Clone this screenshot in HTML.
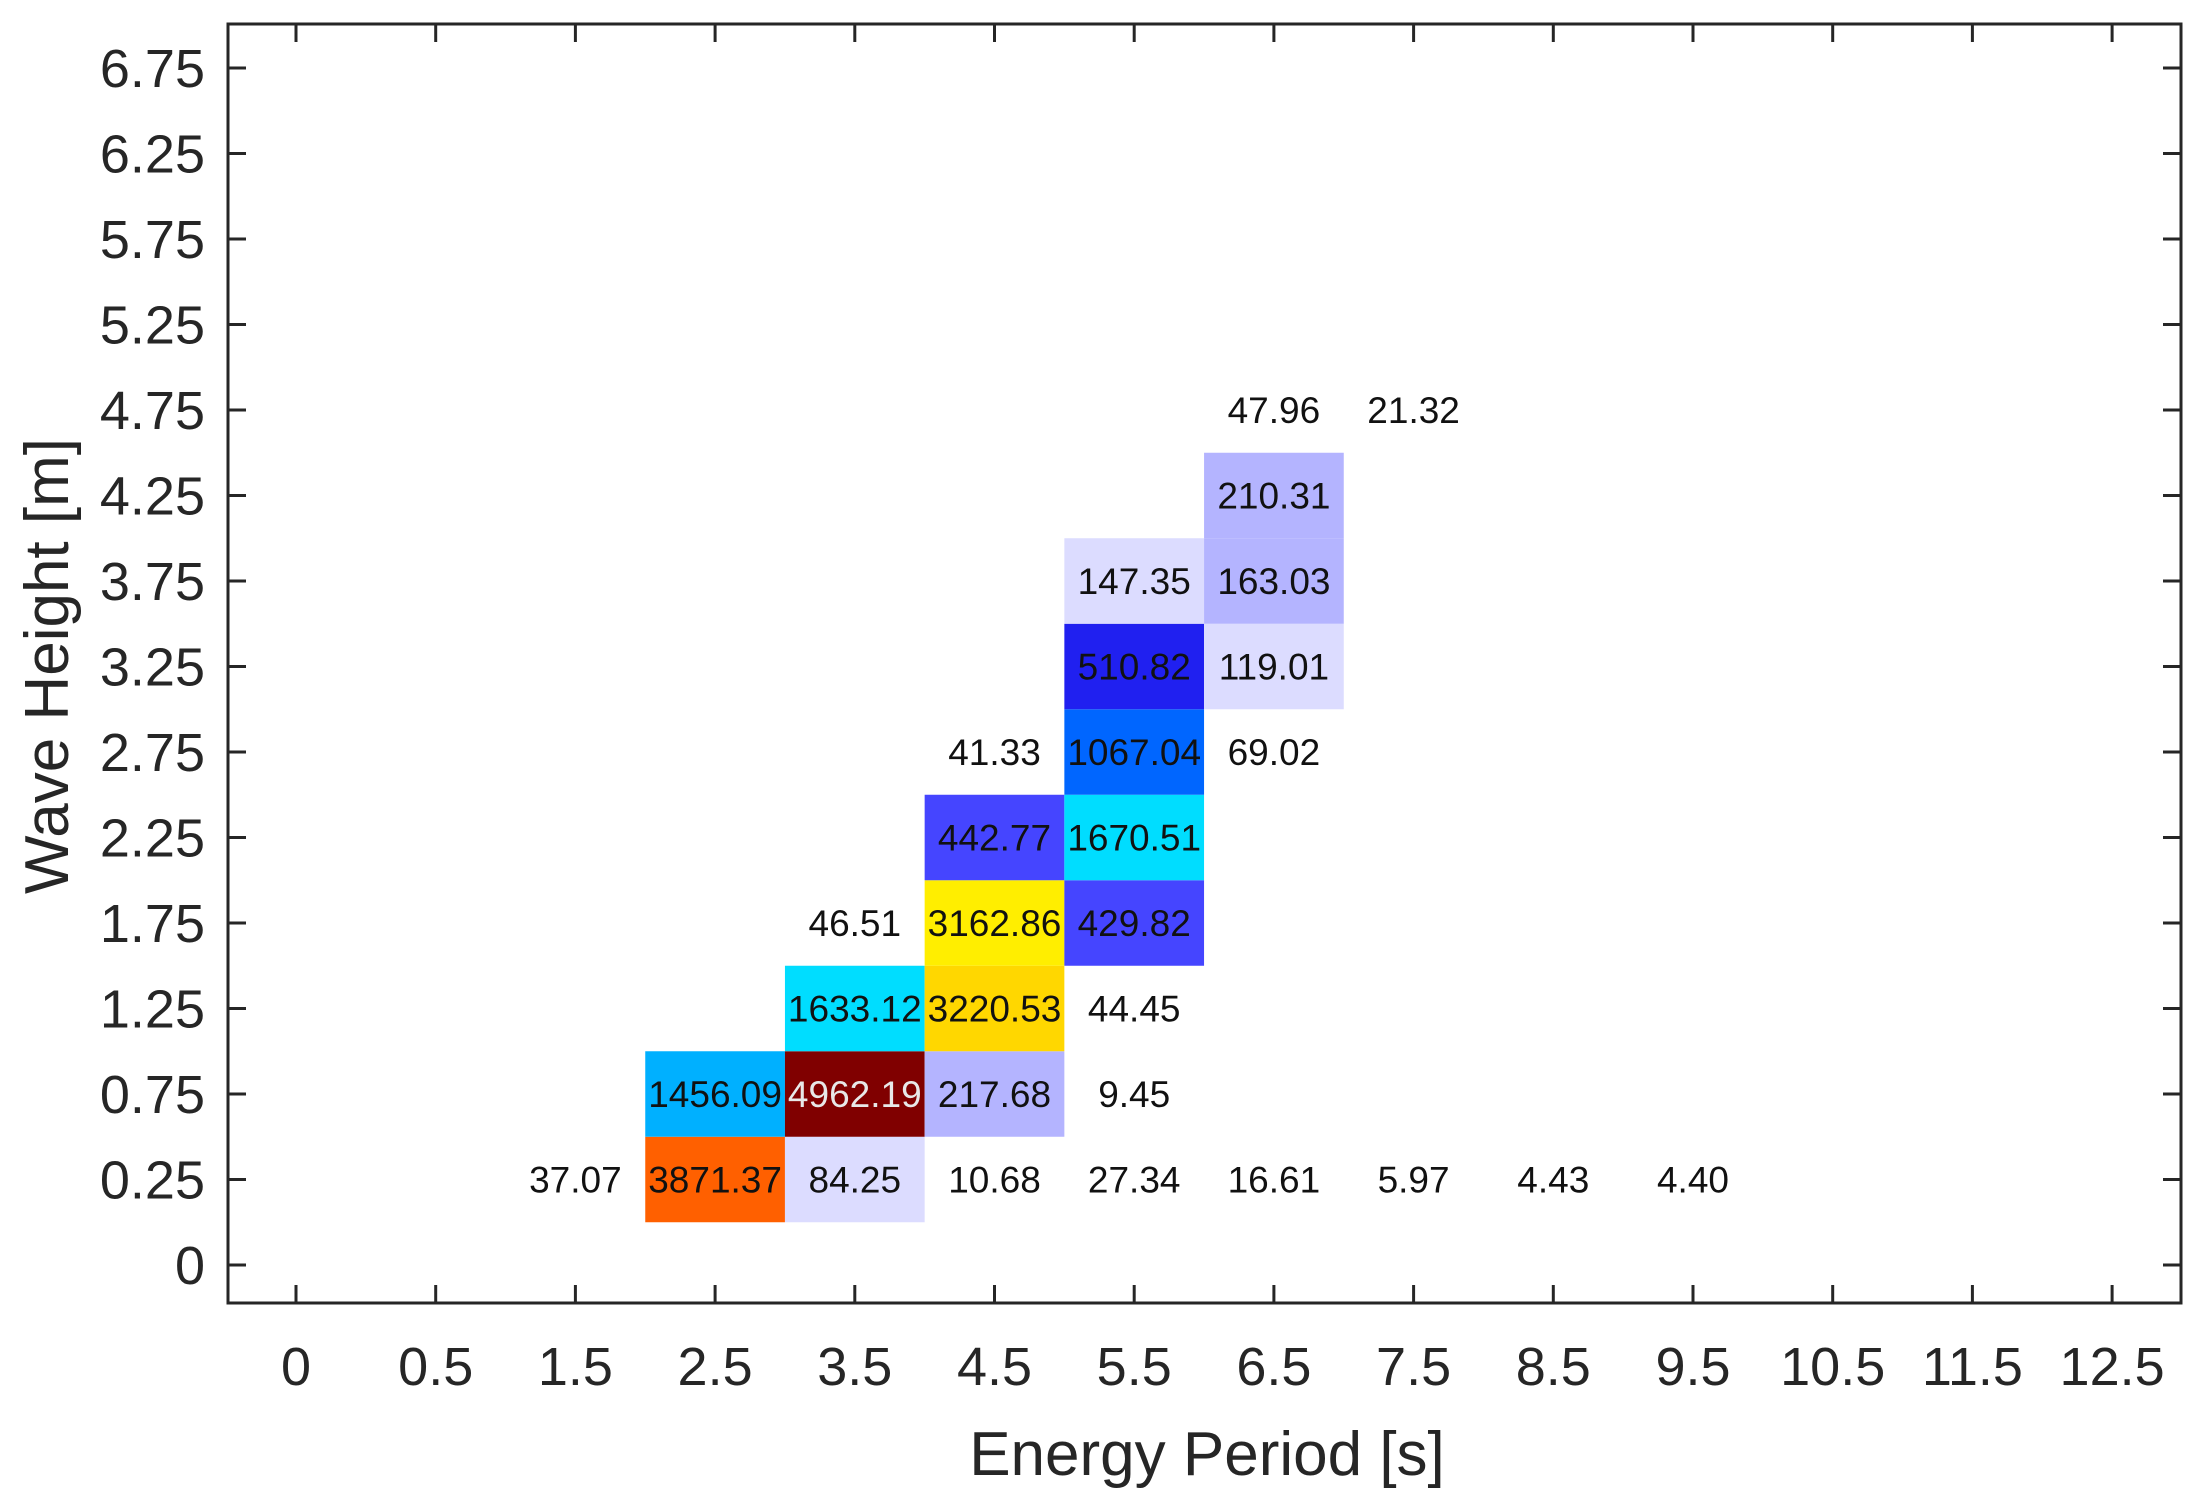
<!DOCTYPE html>
<html><head><meta charset="utf-8"><style>
html,body{margin:0;padding:0;background:#fff;}
svg{display:block;font-family:"Liberation Sans",Arial,sans-serif;}
</style></head><body>
<svg id="chart" width="2199" height="1511" viewBox="0 0 2199 1511" xmlns="http://www.w3.org/2000/svg">
<rect x="0" y="0" width="2199" height="1511" fill="#fff"/>
<g id="cells"></g>
<g id="axes"></g>
<text x="1207" y="1475" font-size="62" fill="#262626" text-anchor="middle">Energy Period [s]</text>
<text transform="translate(68,666) rotate(-90)" font-size="62" fill="#262626" text-anchor="middle">Wave Height [m]</text>
</svg>
<script>
const xLabels = ["0","0.5","1.5","2.5","3.5","4.5","5.5","6.5","7.5","8.5","9.5","10.5","11.5","12.5"];
const yLabels = ["0","0.25","0.75","1.25","1.75","2.25","2.75","3.25","3.75","4.25","4.75","5.25","5.75","6.25","6.75"];
const cellX = ["1.5","2.5","3.5","4.5","5.5","6.5","7.5","8.5","9.5",
  "2.5","3.5","4.5","5.5",
  "3.5","4.5","5.5",
  "3.5","4.5","5.5",
  "4.5","5.5",
  "4.5","5.5","6.5",
  "5.5","6.5",
  "5.5","6.5",
  "6.5",
  "6.5","7.5"];
const cellY = ["0.25","0.25","0.25","0.25","0.25","0.25","0.25","0.25","0.25",
  "0.75","0.75","0.75","0.75",
  "1.25","1.25","1.25",
  "1.75","1.75","1.75",
  "2.25","2.25",
  "2.75","2.75","2.75",
  "3.25","3.25",
  "3.75","3.75",
  "4.25",
  "4.75","4.75"];
const cellValues = [37.07,3871.37,84.25,10.68,27.34,16.61,5.97,4.43,4.40,
  1456.09,4962.19,217.68,9.45,
  1633.12,3220.53,44.45,
  46.51,3162.86,429.82,
  442.77,1670.51,
  41.33,1067.04,69.02,
  510.82,119.01,
  147.35,163.03,
  210.31,
  47.96,21.32];

const NS="http://www.w3.org/2000/svg";
const L=228,R=2181,T=24,B=1303;
const xStep=139.7, x0=296, yStep=85.5, y0=1265;
function xPos(lbl){return x0+xLabels.indexOf(lbl)*xStep;}
function yPos(lbl){return y0-yLabels.indexOf(lbl)*yStep;}
function colorFor(v){
  if(v<75) return null;
  if(v<150) return "#dcdcff";
  if(v<300) return "#b4b4ff";
  if(v<480) return "#4545ff";
  if(v<800) return "#2020f0";
  if(v<1300) return "#0066ff";
  if(v<1550) return "#00b0ff";
  if(v<2000) return "#00ddff";
  if(v<3190) return "#ffee00";
  if(v<3500) return "#ffd700";
  if(v<4400) return "#ff6000";
  return "#800000";
}
function mk(tag,attrs,parent){const e=document.createElementNS(NS,tag);for(const k in attrs)e.setAttribute(k,attrs[k]);parent.appendChild(e);return e;}
const cells=document.getElementById('cells');
const axes=document.getElementById('axes');
for(let i=0;i<cellValues.length;i++){
  const cx=xPos(cellX[i]), cy=yPos(cellY[i]), v=cellValues[i];
  const c=colorFor(v);
  if(c){
    const r=mk('rect',{x:cx-xStep/2,y:cy-yStep/2,width:xStep,height:yStep,fill:c},cells);
    
    
  }
  const t=mk('text',{x:cx,y:cy+13,'font-size':37,'text-anchor':'middle',fill:v>4400?'#e8e8e8':'#111'},cells);
  t.textContent=v.toFixed(2);
  
  
}
const box=mk('rect',{x:L,y:T,width:R-L,height:B-T,fill:'none',stroke:'#262626','stroke-width':3},axes);


xLabels.forEach((l,i)=>{
  const x=x0+i*xStep;
  mk('line',{x1:x,y1:B,x2:x,y2:B-18,stroke:'#262626','stroke-width':3},axes);
  mk('line',{x1:x,y1:T,x2:x,y2:T+18,stroke:'#262626','stroke-width':3},axes);
  const t=mk('text',{x:x,y:1385,'font-size':54,'text-anchor':'middle',fill:'#262626'},axes);
  t.textContent=l;
  
  
});
yLabels.forEach((l,i)=>{
  const y=y0-i*yStep;
  mk('line',{x1:L,y1:y,x2:L+18,y2:y,stroke:'#262626','stroke-width':3},axes);
  mk('line',{x1:R,y1:y,x2:R-18,y2:y,stroke:'#262626','stroke-width':3},axes);
  const t=mk('text',{x:205,y:y+19,'font-size':54,'text-anchor':'end',fill:'#262626'},axes);
  t.textContent=l;
  
  
});
</script>
</body></html>
